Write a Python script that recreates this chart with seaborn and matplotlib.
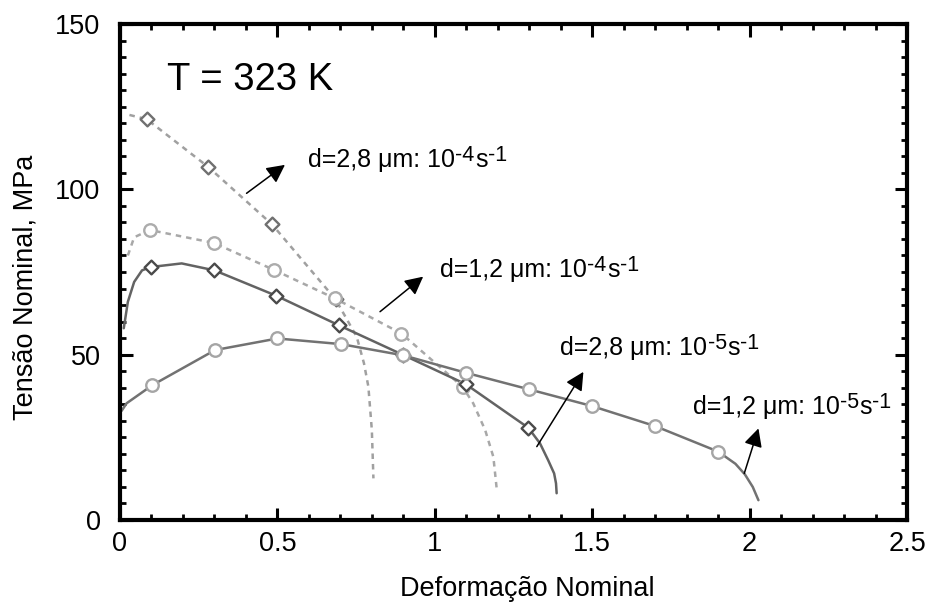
import matplotlib
matplotlib.use("Agg")
import matplotlib.pyplot as plt
from matplotlib.ticker import MultipleLocator, FixedLocator, FixedFormatter
import seaborn as sns
import pandas as pd

# ---- data -------------------------------------------------------------
# d = 2.8 um, 1e-4 s^-1 (dashed, diamonds)
a_mark_x = [0.085, 0.28, 0.483, 0.685]
a_mark_y = [121.2, 106.8, 89.4, 66.7]
a_line_x = [0.03, 0.085, 0.28, 0.483, 0.685, 0.752, 0.775, 0.789, 0.80, 0.805]
a_line_y = [122.5, 121.2, 106.8, 89.4, 66.7, 55.4, 47.4, 40.3, 27.2, 12.6]

# d = 1.2 um, 1e-4 s^-1 (dashed, circles)
b_mark_x = [0.095, 0.298, 0.49, 0.683, 0.894, 1.088]
b_mark_y = [87.7, 83.8, 75.6, 67.0, 56.4, 40.3]
b_line_x = [0.025, 0.045, 0.095, 0.298, 0.49, 0.683, 0.894, 1.088, 1.122, 1.16, 1.186, 1.197]
b_line_y = [80.0, 85.5, 87.7, 83.8, 75.6, 67.0, 56.4, 40.3, 35.3, 27.2, 19.1, 9.1]

# d = 2.8 um, 1e-5 s^-1 (solid, diamonds)
c_mark_x = [0.097, 0.30, 0.497, 0.695, 0.90, 1.098, 1.297]
c_mark_y = [76.5, 75.5, 67.8, 58.9, 49.9, 41.1, 27.9]
c_line_x = [0.012, 0.025, 0.045, 0.07, 0.097, 0.196, 0.30, 0.497, 0.695, 0.90, 1.098,
            1.297, 1.334, 1.36, 1.379, 1.385, 1.387]
c_line_y = [58.0, 66.0, 72.0, 75.5, 76.5, 77.6, 75.5, 67.8, 58.9, 49.9, 41.1,
            27.9, 23.2, 18.1, 14.1, 11.1, 8.1]

# d = 1.2 um, 1e-5 s^-1 (solid, circles)
d_mark_x = [0.103, 0.302, 0.50, 0.702, 0.90, 1.10, 1.30, 1.498, 1.70, 1.90]
d_mark_y = [40.8, 51.4, 54.9, 53.2, 49.8, 44.5, 39.5, 34.5, 28.4, 20.7]
d_line_x = [0.005, 0.021, 0.103, 0.302, 0.50, 0.702, 0.90, 1.10, 1.30, 1.498, 1.70, 1.90,
            1.955, 1.985, 2.01, 2.028]
d_line_y = [33.0, 35.3, 40.8, 51.4, 54.9, 53.2, 49.8, 44.5, 39.5, 34.5, 28.4, 20.7,
            17.0, 13.8, 10.0, 6.0]

# labels: (text x, text baseline y, arrow tail, arrow head, grain size, exponent)
label_pos = [(0.597, 106.7), (1.017, 73.4), (1.398, 49.9), (1.819, 32.0)]
arrow_tail = [(0.402, 98.8), (0.826, 63.0), (1.324, 22.2), (1.983, 14.1)]
arrow_head = [(0.524, 107.4), (0.963, 73.6), (1.472, 44.8), (2.028, 27.7)]
grain_sizes = ["2,8", "1,2", "2,8", "1,2"]
rate_exponents = ["-4", "-4", "-5", "-5"]

x_ticks = [0, 0.5, 1, 1.5, 2, 2.5]
x_tick_labels = ["0", "0.5", "1", "1.5", "2", "2.5"]
y_ticks = [0, 50, 100, 150]
y_tick_labels = ["0", "50", "100", "150"]

# ---- style ------------------------------------------------------------
sns.set_style("ticks")
plt.rcParams["font.family"] = ["Liberation Sans", "DejaVu Sans"]
for key in ("text.color", "axes.labelcolor", "xtick.color", "ytick.color"):
    plt.rcParams[key] = "black"

fig = plt.figure(figsize=(9.28, 6.03), dpi=100)
ax = fig.add_axes([0.1293, 0.1376, 0.8481, 0.8226])

dash = (0, (2.2, 2.0))
series = [
    (a_line_x, a_line_y, a_mark_x, a_mark_y, "D", "#a0a0a0", "#707070", dash, 7.0),
    (b_line_x, b_line_y, b_mark_x, b_mark_y, "o", "#a8a8a8", "#acacac", dash, 9.0),
    (c_line_x, c_line_y, c_mark_x, c_mark_y, "D", "#636363", "#4a4a4a", "-", 7.0),
    (d_line_x, d_line_y, d_mark_x, d_mark_y, "o", "#727272", "#a5a5a5", "-", 9.0),
]

for lx, ly, mx, my, mk, lc, mc, ls, ms in series:
    line_df = pd.DataFrame({"x": lx, "y": ly})
    sns.lineplot(data=line_df, x="x", y="y", sort=False, estimator=None,
                 color=lc, linewidth=1.8, linestyle=ls, ax=ax, zorder=2)
    mark_df = pd.DataFrame({"x": mx, "y": my})
    sns.scatterplot(data=mark_df, x="x", y="y", marker=mk, s=ms ** 2,
                    facecolor="white", edgecolor=mc, linewidth=1.7, ax=ax, zorder=3)

# ---- axes -------------------------------------------------------------
ax.set_xlim(0, 2.5)
ax.set_ylim(0, 150)
ax.xaxis.set_major_locator(FixedLocator(x_ticks))
ax.xaxis.set_major_formatter(FixedFormatter(x_tick_labels))
ax.yaxis.set_major_locator(FixedLocator(y_ticks))
ax.yaxis.set_major_formatter(FixedFormatter(y_tick_labels))
ax.xaxis.set_minor_locator(MultipleLocator(0.1))
ax.yaxis.set_minor_locator(MultipleLocator(5))

for sp in ax.spines.values():
    sp.set_linewidth(3.0)
    sp.set_color("black")
    sp.set_visible(True)

ax.tick_params(which="both", direction="in", top=True, right=True, color="black")
ax.tick_params(which="major", length=9, width=2.2, labelsize=19.5)
ax.tick_params(which="minor", length=4.5, width=2.0)
ax.tick_params(axis="x", which="major", pad=8)
ax.tick_params(axis="y", which="major", pad=14)

ax.set_xlabel("Deformação Nominal", fontsize=19.5)
ax.set_ylabel("Tensão Nominal, MPa", fontsize=19.5)
ax.xaxis.set_label_coords(0.517, -0.112)
ax.yaxis.set_label_coords(-0.104, 0.47)

ax.text(0.149, 130, "T = 323 K", fontsize=27.5, ha="left", va="baseline")


def rate_label(x, y, size, expo, fs=18, fs_sup=15.5, rise=4.5):
    base = ax.text(x, y, f"d={size} μm: 10", fontsize=fs, ha="left", va="baseline")
    pieces = [(expo, fs_sup, rise), ("s", fs, 0.0), ("-1", fs_sup, rise)]
    prev = base
    for txt, size_pt, dy in pieces:
        prev = ax.annotate(txt, xy=(1, 0), xycoords=(prev, base),
                           xytext=(0.3, dy), textcoords="offset points",
                           fontsize=size_pt, ha="left", va="bottom")


for (tx, ty), tail, head, gs, ex in zip(label_pos, arrow_tail, arrow_head,
                                       grain_sizes, rate_exponents):
    rate_label(tx, ty, gs, ex)
    ax.annotate("", xy=head, xytext=tail,
                arrowprops=dict(arrowstyle="-|>,head_length=0.55,head_width=0.28",
                                color="black", lw=1.1, shrinkA=0, shrinkB=0,
                                mutation_scale=20))

fig.savefig("out.png", dpi=100, facecolor="white")
